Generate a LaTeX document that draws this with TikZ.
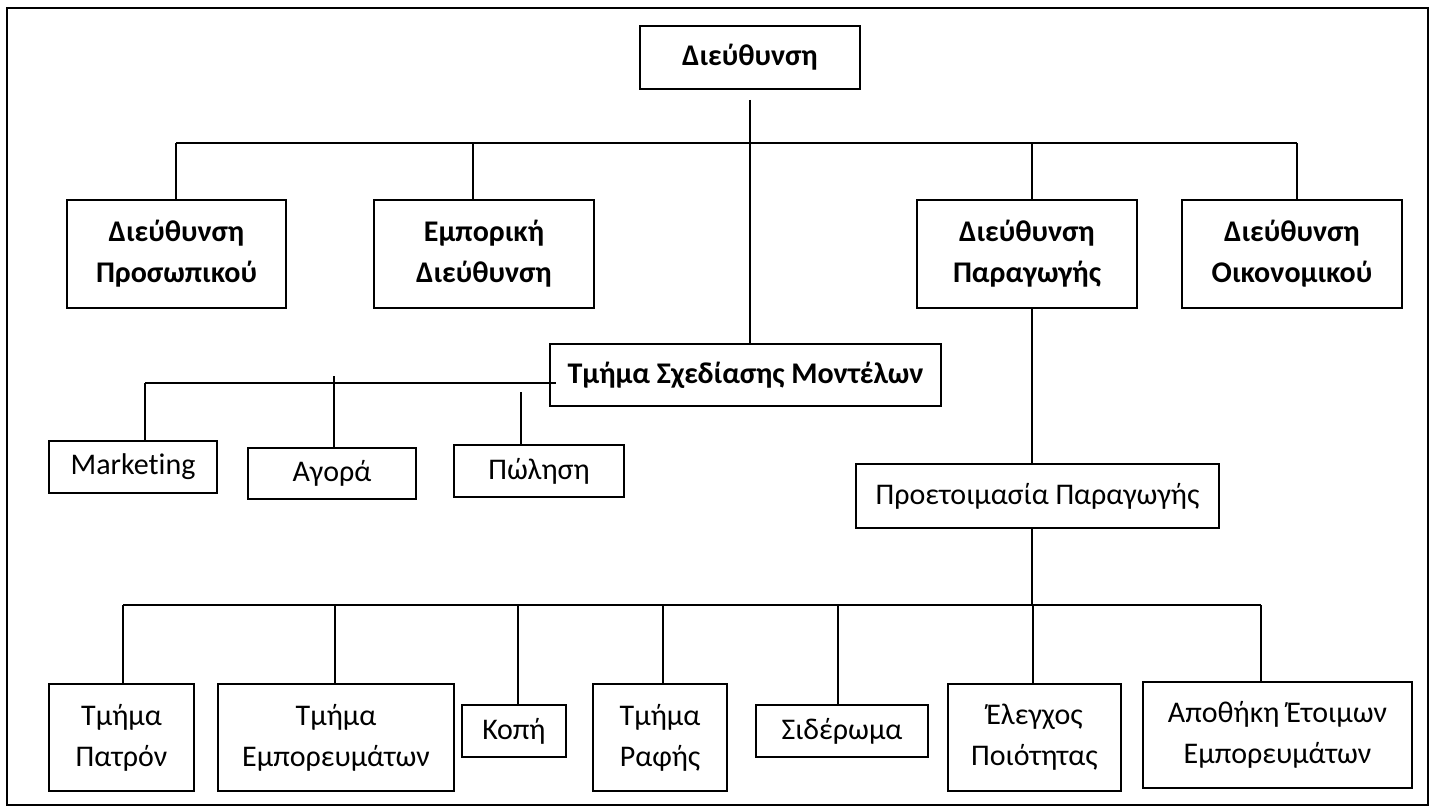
\documentclass[tikz,border=0pt]{standalone}
\usepackage{fontspec}
\setmainfont{Carlito}[Ligatures=NoCommon]
\usepackage{tikz}
\tikzstyle{box}=[draw, line width=0.6pt, inner sep=0pt, align=center,
                 font=\fontsize{15}{20.5}\selectfont]
\tikzstyle{head}=[box, font=\fontsize{15}{20.5}\selectfont\bfseries]
\tikzstyle{conn}=[line width=1pt, color=black]

\begin{document}
\begin{tikzpicture}
\begin{scope}[x=0.5pt, y=-0.5pt]
  \useasboundingbox (0,0) rectangle (1431,808);
  % Frame
  \draw[line width=1.2pt] (7,8) rectangle (1428,805);

  % Top
  \node[head, minimum width=110pt, minimum height=31.5pt] (dieuth) at (750,57.5) {Διεύθυνση};

  % Directorates
  \node[head, minimum width=109.5pt, minimum height=54pt] (prosop)   at (176.5,254) {Διεύθυνση\\Προσωπικού};
  \node[head, minimum width=110pt,   minimum height=54pt] (empor)    at (484,254)   {Εμπορική\\Διεύθυνση};
  \node[head, minimum width=110pt,   minimum height=54pt] (paragogi) at (1027,254)  {Διεύθυνση\\Παραγωγής};
  \node[head, minimum width=110pt,   minimum height=54pt] (oikon)    at (1292,254)  {Διεύθυνση\\Οικονομικού};
  \node[head, minimum width=195.5pt, minimum height=31pt] (sxed)     at (745.5,375) {Τμήμα Σχεδίασης Μοντέλων};

  % Commercial departments
  \node[box, minimum width=84pt, minimum height=26pt]   (marketing) at (133,467)   {Marketing};
  \node[box, minimum width=84pt, minimum height=25.5pt] (agora)     at (332,473.5) {Αγορά};
  \node[box, minimum width=85pt, minimum height=26pt]   (polisi)    at (539,471)   {Πώληση};

  % Production
  \node[box, minimum width=181.5pt, minimum height=32pt] (proet) at (1037.5,496) {Προετοιμασία Παραγωγής};
  \node[box, minimum width=72.5pt,  minimum height=53.5pt] (patron)   at (121.5,737.5)  {Τμήμα\\Πατρόν};
  \node[box, minimum width=118pt,   minimum height=53.5pt] (emporevm) at (336,737.5)    {Τμήμα\\Εμπορευμάτων};
  \node[box, minimum width=52pt,    minimum height=26pt]   (kopi)     at (514,731)      {Κοπή};
  \node[box, minimum width=67pt,    minimum height=53.5pt] (rafi)     at (660,737.5)    {Τμήμα\\Ραφής};
  \node[box, minimum width=86pt,    minimum height=26pt]   (siderom)  at (842,731)      {Σιδέρωμα};
  \node[box, minimum width=86.5pt,  minimum height=53.5pt] (elegxos)  at (1034.5,737.5) {Έλεγχος\\Ποιότητας};
  \node[box, minimum width=134.5pt, minimum height=53pt]   (apothiki) at (1277.5,735)   {Αποθήκη Έτοιμων\\Εμπορευμάτων};

  % Connectors, top level
  \coordinate (topline) at (750,100);
  \draw[conn] (topline) -- (topline |- sxed.north);
  \draw[conn] (176,143) -- (1297,143);
  \foreach \n/\xi in {prosop/176, empor/473, paragogi/1032, oikon/1297}{
    \draw[conn] (\xi,143) -- (\xi,0 |- \n.north);
  }

  % Connectors, commercial
  \coordinate (lbus) at (145,383);
  \draw[conn] (lbus) -- (lbus -| sxed.west) -- ++(3.5pt,0);
  \foreach \n/\xi/\yi in {marketing/145/383, agora/334/376, polisi/521/392}{
    \draw[conn] (\xi,\yi) -- (\xi,0 |- \n.north);
  }

  % Connectors, production
  \draw[conn] (1032,0 |- paragogi.south) -- (1032,0 |- proet.north);
  \draw[conn] (1032,0 |- proet.south) -- (1032,605);
  \draw[conn] (123,605) -- (1261,605);
  \foreach \n/\xi in {patron/123, emporevm/335, kopi/518, rafi/663, siderom/838, elegxos/1033, apothiki/1261}{
    \draw[conn] (\xi,605) -- (\xi,0 |- \n.north);
  }
\end{scope}
\end{tikzpicture}
\end{document}
